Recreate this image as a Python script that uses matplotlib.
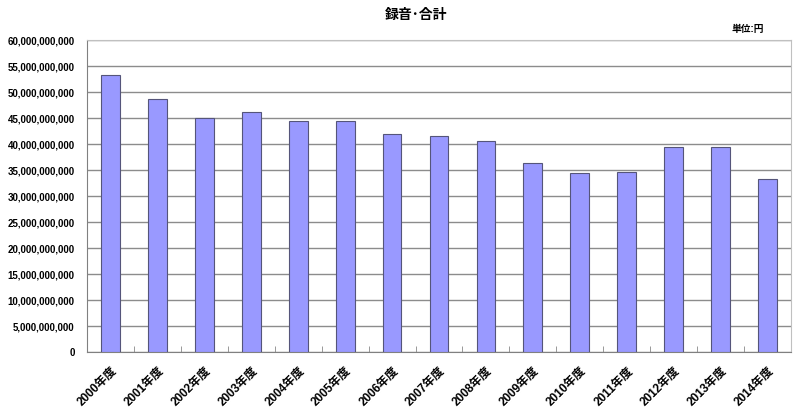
import matplotlib
matplotlib.use("Agg")
import matplotlib.pyplot as plt
from matplotlib.ticker import FuncFormatter, MultipleLocator

plt.rcParams['font.family'] = ['Liberation Sans', 'Noto Sans CJK JP', 'DejaVu Sans']

# fiscal years and recorded totals (yen)
years = ['2000年度', '2001年度', '2002年度', '2003年度', '2004年度',
         '2005年度', '2006年度', '2007年度', '2008年度', '2009年度',
         '2010年度', '2011年度', '2012年度', '2013年度', '2014年度']
totals = [53.2e9, 48.6e9, 45.0e9, 46.1e9, 44.4e9,
          44.4e9, 42.0e9, 41.5e9, 40.5e9, 36.4e9,
          34.4e9, 34.6e9, 39.5e9, 39.5e9, 33.3e9]

fig = plt.figure(figsize=(8, 4.11), dpi=100)
ax = fig.add_axes([87 / 800, 1 - 352 / 411, 704 / 800, 312 / 411])

x = range(len(years))
ax.bar(x, totals, width=0.4, color='#9999FF', edgecolor='#55557a', linewidth=0.8, zorder=3)

ax.set_xlim(-0.5, len(years) - 0.5)
ax.set_ylim(0, 60e9)
ax.yaxis.set_major_locator(MultipleLocator(5e9))
ax.yaxis.set_major_formatter(FuncFormatter(lambda v, p: f'{int(round(v)):,}'))
ax.grid(axis='y', color='#8c8c8c', linewidth=1.0, zorder=0)

# category boundary ticks on the x axis
ax.set_xticks([i + 0.5 for i in x], minor=True)
ax.set_xticks(list(x))
ax.set_xticklabels(years, rotation=45, ha='right', va='top', rotation_mode='anchor',
                   fontsize=8.5, fontweight='bold')
ax.tick_params(axis='x', which='major', length=0, pad=9)
ax.tick_params(axis='x', which='minor', direction='in', length=4, color='#888888')
ax.tick_params(axis='y', length=0, labelsize=7, pad=9)
for lbl in ax.get_yticklabels():
    lbl.set_fontweight('bold')

for side in ['top', 'right']:
    ax.spines[side].set_color('#c0c0c0')
for side in ['left', 'bottom']:
    ax.spines[side].set_color('#808080')

fig.text(416 / 800, 1 - 15 / 411, '録音･合計', ha='center', va='center',
         fontsize=10, fontweight='bold')
fig.text(764 / 800, 1 - 29 / 411, '単位:円', ha='right', va='center',
         fontsize=7, fontweight='bold')

fig.savefig('out.png', dpi=100)
